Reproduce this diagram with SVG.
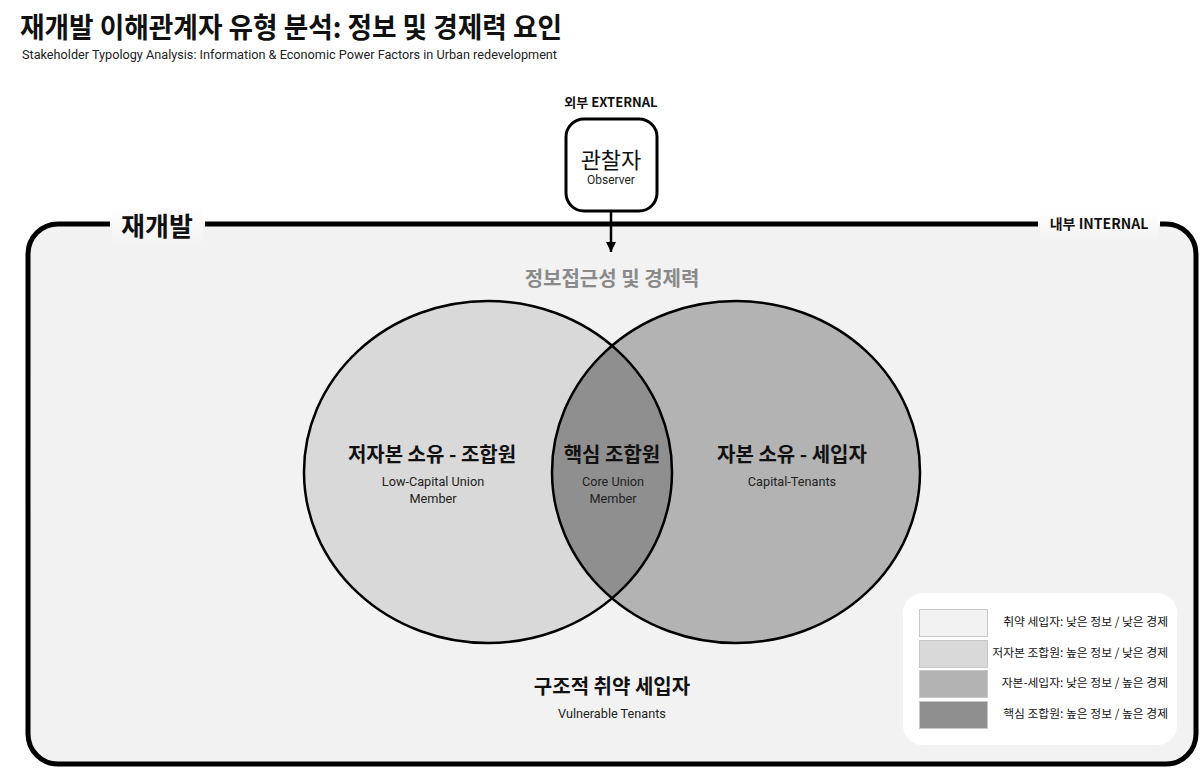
<svg xmlns="http://www.w3.org/2000/svg" width="1200" height="768" viewBox="0 0 1200 768">
<style>
.kr{font-family:"Noto Sans CJK KR","Noto Sans",sans-serif;}
.en{font-family:Roboto,"Liberation Sans",sans-serif;}
.title{font-size:28px;font-weight:700;fill:#111;}
.sub{font-size:12px;fill:#222;}
.lbl{font-size:20px;font-weight:700;fill:#111;text-anchor:middle;}
.en12{font-size:12.7px;fill:#222;text-anchor:middle;}
.edge{fill:none;stroke:#000;stroke-width:2.5;}
.leg{font-size:11.8px;fill:#111;text-anchor:end;}
.sw{stroke:#c8c8c8;stroke-width:1;}
</style>
<defs>
<marker id="arr" viewBox="0 0 10 10" refX="10" refY="5" markerWidth="10" markerHeight="10" markerUnits="userSpaceOnUse" orient="auto">
<path d="M0,0 L10,5 L0,10 Z" fill="#000"/>
</marker>
<clipPath id="leftClip"><ellipse cx="488" cy="472" rx="184" ry="171"/></clipPath>
<linearGradient id="lblbg" x1="0" y1="0" x2="0" y2="1">
<stop offset="0" stop-color="#ffffff"/>
<stop offset="1" stop-color="#f2f2f2"/>
</linearGradient>
</defs>
<rect width="1200" height="768" fill="#fff"/>

<g id="title">
<text class="kr title" x="20" y="38" textLength="542" lengthAdjust="spacingAndGlyphs">재개발 이해관계자 유형 분석: 정보 및 경제력 요인</text>
<text class="en sub" x="22" y="59" textLength="535" lengthAdjust="spacingAndGlyphs">Stakeholder Typology Analysis: Information &amp; Economic Power Factors in Urban redevelopment</text>
</g>

<g id="internal-frame">
<rect x="28" y="224" width="1168" height="540" rx="30" fill="#f2f2f2"/>
<path d="M205,224 H1038" fill="none" stroke="#000" stroke-width="5"/>
<path d="M1160,224 H1166 A30,30 0 0 1 1196,254 V734 A30,30 0 0 1 1166,764 H58 A30,30 0 0 1 28,734 V254 A30,30 0 0 1 58,224 H110" fill="none" stroke="#000" stroke-width="5"/>
<rect x="112" y="206" width="91" height="40" fill="url(#lblbg)"/>
<text class="kr" x="157" y="236" font-size="26" font-weight="700" fill="#111" text-anchor="middle">재개발</text>
<rect x="1040" y="212" width="118" height="30" fill="url(#lblbg)"/>
<text class="kr" x="1099" y="229" font-size="14" font-weight="700" fill="#111" text-anchor="middle">내부 INTERNAL</text>
</g>

<g id="external-label">
<text class="kr" x="611" y="107" font-size="13" font-weight="700" fill="#111" text-anchor="middle">외부 EXTERNAL</text>
</g>

<g id="observer">
<rect x="566" y="119" width="91" height="92" rx="18" fill="#fff" stroke="#000" stroke-width="3"/>
<text class="kr" x="611" y="168" font-size="22" fill="#111" text-anchor="middle">관찰자</text>
<text class="en" x="611" y="184" font-size="12" fill="#222" text-anchor="middle">Observer</text>
</g>

<g id="connectors">
<line x1="611" y1="211" x2="611" y2="252" stroke="#000" stroke-width="2.5" marker-end="url(#arr)"/>
</g>

<g id="axis-label">
<text class="kr" x="612" y="286" font-size="20" font-weight="700" fill="#8a8a8a" text-anchor="middle">정보접근성 및 경제력</text>
</g>

<g id="low-capital">
<ellipse cx="488" cy="472" rx="184" ry="171" fill="#d9d9d9"/>
</g>
<g id="capital-tenants">
<ellipse cx="736" cy="472" rx="184" ry="171" fill="#b3b3b3"/>
</g>
<g id="core-union">
<ellipse cx="736" cy="472" rx="184" ry="171" fill="#8f8f8f" clip-path="url(#leftClip)"/>
</g>
<g id="venn-outlines">
<ellipse class="edge" cx="488" cy="472" rx="184" ry="171"/>
<ellipse class="edge" cx="736" cy="472" rx="184" ry="171"/>
</g>

<g id="low-capital-label">
<text class="kr lbl" x="432" y="462">저자본 소유 - 조합원</text>
<text class="en en12" x="433" y="486">Low-Capital Union</text>
<text class="en en12" x="433" y="503">Member</text>
</g>
<g id="core-union-label">
<text class="kr lbl" x="612" y="462">핵심 조합원</text>
<text class="en en12" x="613" y="486">Core Union</text>
<text class="en en12" x="613" y="503">Member</text>
</g>
<g id="capital-tenants-label">
<text class="kr lbl" x="792" y="462">자본 소유 - 세입자</text>
<text class="en en12" x="792" y="486">Capital-Tenants</text>
</g>

<g id="vulnerable-tenants">
<text class="kr lbl" x="612" y="694">구조적 취약 세입자</text>
<text class="en en12" x="612" y="718">Vulnerable Tenants</text>
</g>

<g id="legend">
<rect x="903" y="593" width="274" height="152" rx="20" fill="#fff"/>
<rect class="sw" x="919.5" y="609.5" width="68" height="27" fill="#f2f2f2"/>
<rect class="sw" x="919.5" y="640.5" width="68" height="27" fill="#d9d9d9"/>
<rect class="sw" x="919.5" y="670.5" width="68" height="27" fill="#b3b3b3"/>
<rect class="sw" x="919.5" y="701.5" width="68" height="27" fill="#8f8f8f"/>
<text class="kr leg" x="1168" y="626">취약 세입자: 낮은 정보 / 낮은 경제</text>
<text class="kr leg" x="1168" y="657">저자본 조합원: 높은 정보 / 낮은 경제</text>
<text class="kr leg" x="1168" y="687">자본-세입자: 낮은 정보 / 높은 경제</text>
<text class="kr leg" x="1168" y="718">핵심 조합원: 높은 정보 / 높은 경제</text>
</g>
</svg>
